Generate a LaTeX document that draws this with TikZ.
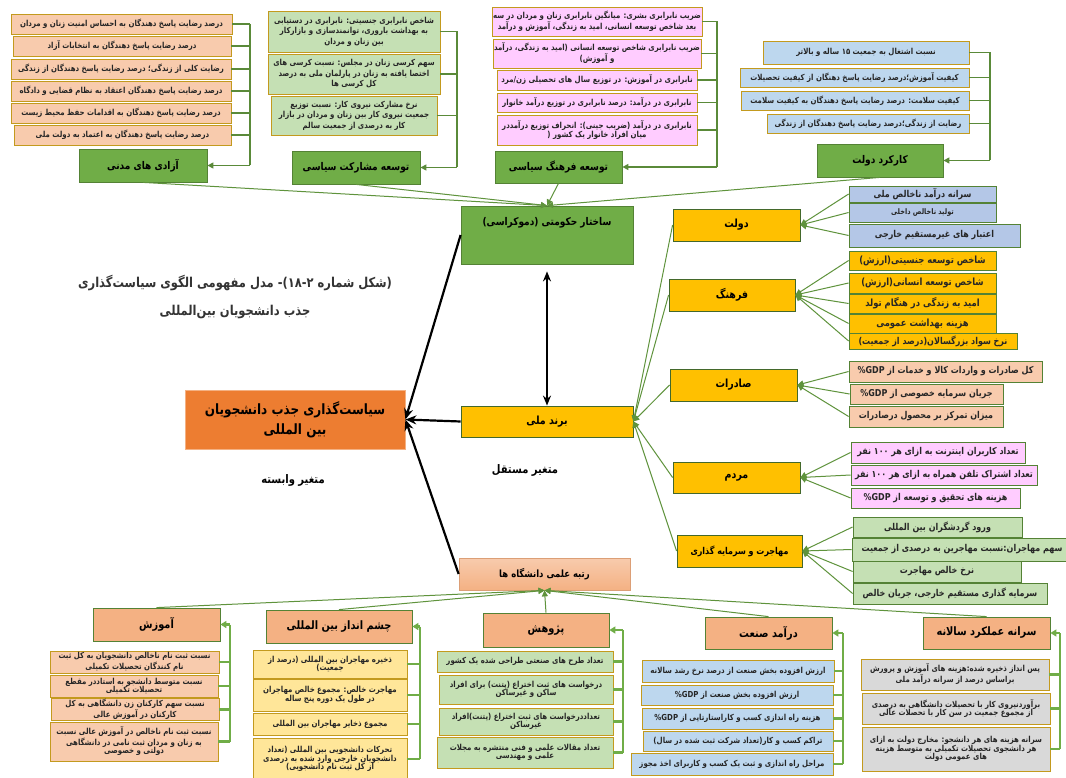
\documentclass[tikz,border=0pt]{standalone}
\usepackage{fontspec}
\usepackage{graphicx}
\usetikzlibrary{arrows.meta}
\TeXXeTstate=1
\newfontfamily\fa[Script=Arabic]{DejaVu Sans}
\newfontfamily\latfont{DejaVu Sans}
\newcommand\R[1]{\scalebox{1}[1.18]{\fa\beginR #1\endR}}
\newcommand\N[1]{\beginL{\latfont #1}\endL}
\definecolor{leafgreen}{HTML}{70AD47}
\definecolor{goldline}{HTML}{C39A1E}
\definecolor{amber}{HTML}{FFC000}
\definecolor{peach}{HTML}{F8CBAD}
\definecolor{salmon}{HTML}{F4B183}
\definecolor{tangerine}{HTML}{ED7D31}
\definecolor{mint}{HTML}{C5E0B4}
\definecolor{sky}{HTML}{BDD7EE}
\definecolor{periwinkle}{HTML}{B4C7E7}
\definecolor{orchid}{HTML}{FFCCFF}
\definecolor{cream}{HTML}{FFE699}
\definecolor{silver}{HTML}{D9D9D9}

\begin{document}
\begin{tikzpicture}[x=1pt,y=-1pt]
	\tikzstyle{box} = [draw=goldline, thick, inner sep=1pt, align=center, text=black!85, font=\bfseries\fontsize{7}{8.4}\selectfont]
	\tikzstyle{sub} = [draw=leafgreen!75!black, thick, inner sep=1pt, align=center, text=black!85, font=\bfseries\fontsize{8}{9.5}\selectfont]
	\tikzstyle{head} = [draw=leafgreen!75!black, thick, fill=leafgreen, font=\bfseries\fontsize{9}{11}\selectfont]
	\tikzstyle{brick} = [draw=leafgreen!60!black, thick, fill=amber, font=\bfseries\fontsize{9.5}{11}\selectfont]
	\tikzstyle{low} = [draw=leafgreen!75!black, thick, fill=salmon, font=\bfseries\fontsize{9.8}{11}\selectfont]
	\tikzstyle{gline} = [leafgreen!80!black, line width=1.2pt]
	\tikzstyle{bus} = [leafgreen, line width=2.2pt]
	\tikzstyle{garrow} = [leafgreen!85!black, line width=1pt, -{Triangle[length=6pt,width=6pt]}]
	\tikzstyle{barrow} = [line width=2.2pt, -{Stealth[length=11pt,width=9pt]}]
	\tikzset{sz/.style 2 args={minimum width=#1, minimum height=#2}}

	\useasboundingbox[fill=white] (0,0) rectangle (1066,778);

	% civil liberties
	\node[box, fill=peach, sz={221}{20}] (civ1) at (121.5,24) {\R{درصد رضایت پاسخ دهندگان به احساس امنیت زنان و مردان}};
	\node[box, fill=peach, sz={218}{20}] (civ2) at (122,46) {\R{درصد رضایت پاسخ دهندگان به انتخابات آزاد}};
	\node[box, fill=peach, sz={220}{20}] (civ3) at (121,69) {\R{رضایت کلی از زندگی؛ درصد رضایت پاسخ دهندگان از زندگی}};
	\node[box, fill=peach, sz={220}{20}] (civ4) at (121,91) {\R{درصد رضایت پاسخ دهندگان اعتقاد به نظام قضایی و دادگاه}};
	\node[box, fill=peach, sz={220}{20}] (civ5) at (121,113) {\R{درصد رضایت پاسخ دهندگان به اقدامات حفظ محیط زیست}};
	\node[box, fill=peach, sz={217}{20}] (civ6) at (122.5,135) {\R{درصد رضایت پاسخ دهندگان به اعتماد به دولت ملی}};
	\node[head, sz={128}{33}] (civ) at (143,165.5) {\R{آزادی های مدنی}};

	% political participation
	\node[box, fill=mint, sz={172}{41}, font=\bfseries\fontsize{7}{10.5}\selectfont] (pol1) at (354,31.5) {\R{شاخص نابرابری جنسیتی: نابرابری در دستیابی}\\\R{به بهداشت باروری، توانمندسازی و بازارکار}\\\R{بین زنان و مردان}};
	\node[box, fill=mint, sz={172}{40}, font=\bfseries\fontsize{7}{10.5}\selectfont] (pol2) at (354,74) {\R{سهم کرسی زنان در مجلس: نسبت کرسی های}\\\R{اختصا یافته به زنان در پارلمان ملی به درصد}\\\R{کل کرسی ها}};
	\node[box, fill=mint, sz={166}{39}, font=\bfseries\fontsize{7}{10.5}\selectfont] (pol3) at (354,115.5) {\R{نرخ مشارکت نیروی کار: نسبت توزیع}\\\R{جمعیت نیروی کار بین زنان و مردان در بازار}\\\R{کار به درصدی از جمعیت سالم}};
	\node[head, sz={128}{33}] (pol) at (356,167.5) {\R{توسعه مشارکت سیاسی}};

	% political culture
	\node[box, fill=orchid, sz={200}{29}] (cul1) at (597,21.5) {\R{ضریب نابرابری بشری: میانگین نابرابری زنان و مردان در سه}\\\R{بعد شاخص توسعه انسانی، امید به زندگی، آموزش و درآمد}};
	\node[box, fill=orchid, sz={200}{29}] (cul2) at (597,53.5) {\R{ضریب نابرابری شاخص توسعه انسانی (امید به زندگی، درآمد}\\\R{و آموزش)}};
	\node[box, fill=orchid, sz={200}{20}] (cul3) at (597,80) {\R{نابرابری در آموزش: در توزیع سال های تحصیلی زن/مرد}};
	\node[box, fill=orchid, sz={200}{19}] (cul4) at (597,102.5) {\R{نابرابری در درآمد: درصد نابرابری در توزیع درآمد خانوار}};
	\node[box, fill=orchid, sz={200}{30}] (cul5) at (597,130) {\R{نابرابری در درآمد (ضریب جینی): انحراف توزیع درآمددر}\\\R{میان افراد خانوار یک کشور (}};
	\node[head, sz={127}{32}] (cul) at (558.5,167) {\R{توسعه فرهنگ سیاسی}};

	% government performance
	\node[box, fill=sky, sz={206}{23}] (gov1) at (866,52.5) {\R{نسبت اشتغال به جمعیت \N{۱۵} ساله و بالاتر}};
	\node[box, fill=sky, sz={229}{19}] (gov2) at (854.5,77.5) {\R{کیفیت آموزش؛درصد رضایت پاسخ دهنگان از کیفیت تحصیلات}};
	\node[box, fill=sky, sz={228}{19}] (gov3) at (855,100.5) {\R{کیفیت سلامت: درصد رضایت پاسخ دهندگان به کیفیت سلامت}};
	\node[box, fill=sky, sz={202}{19}] (gov4) at (868,123.5) {\R{رضایت از زندگی؛درصد رضایت پاسخ دهندگان از زندگی}};
	\node[head, sz={126}{33}] (gov) at (880,160.5) {\R{کارکرد دولت}};

	% brackets of the top groups
	\coordinate (civbus) at (250,0);
	\coordinate (polbus) at (457,0);
	\coordinate (culbus) at (717,0);
	\coordinate (govbus) at (990,0);
	\foreach \n in {civ1,civ2,civ3,civ4,civ5,civ6}
		\draw[gline] (\n.east) -- (\n.east -| civbus);
	\draw[gline] (civ1.east -| civbus) -- (civ.east -| civbus);
	\draw[gline, -{Triangle[length=6pt,width=6pt]}] (civ.east -| civbus) -- (civ.east);
	\foreach \n in {pol1,pol2,pol3}
		\draw[gline] (\n.east) -- (\n.east -| polbus);
	\draw[gline] (pol1.east -| polbus) -- (pol.east -| polbus);
	\draw[gline, -{Triangle[length=6pt,width=6pt]}] (pol.east -| polbus) -- (pol.east);
	\foreach \n in {cul1,cul2,cul3,cul4,cul5}
		\draw[gline] (\n.east) -- (\n.east -| culbus);
	\draw[gline] (cul1.east -| culbus) -- (cul.east -| culbus);
	\draw[gline, -{Triangle[length=6pt,width=6pt]}] (cul.east -| culbus) -- (cul.east);
	\foreach \n in {gov1,gov2,gov3,gov4}
		\draw[gline] (\n.east) -- (\n.east -| govbus);
	\draw[gline] (gov1.east -| govbus) -- (gov.east -| govbus);
	\draw[gline, -{Triangle[length=6pt,width=6pt]}] (gov.east -| govbus) -- (gov.east);

	% middle column
	\node[head, sz={172}{58}, text height=17pt, text depth=35pt, inner sep=3pt] (demo) at (547,235) {\R{ساختار حکومتی (دموکراسی)}};
	\node[brick, sz={172}{31}] (brand) at (547,421.5) {\R{برند ملی}};
	\node[draw=salmon!90!black, thick, top color=peach, bottom color=salmon, sz={171}{32}, font=\bfseries\fontsize{8.5}{10}\selectfont] (rank) at (544.5,574) {\R{رتبه علمی دانشگاه ها}};
	\node[draw=salmon, thick, fill=tangerine, sz={220}{59}, align=center, font=\bfseries\fontsize{12}{20}\selectfont] (core) at (295,419.5) {\R{سیاست‌گذاری جذب دانشجویان}\\\R{بین المللی}};

	\node[text=black!80, font=\bfseries\fontsize{11.5}{14}\selectfont] (cap1) at (235,283) {\R{(شکل شماره \N{۱۸-۲})- مدل مفهومی الگوی سیاست‌گذاری}};
	\node[text=black!80, font=\bfseries\fontsize{11.5}{14}\selectfont] (cap2) at (235,312) {\R{جذب دانشجویان بین‌المللی}};
	\node[font=\bfseries\fontsize{10}{12}\selectfont] (dep) at (293,480) {\R{متغیر وابسته}};
	\node[font=\bfseries\fontsize{10}{12}\selectfont] (ind) at (525,470) {\R{متغیر مستقل}};

	% national brand factors
	\node[brick, sz={127}{32}] (dol) at (736.5,225) {\R{دولت}};
	\node[brick, sz={126}{32}] (far) at (732,295) {\R{فرهنگ}};
	\node[brick, sz={127}{32}] (sad) at (733.5,385) {\R{صادرات}};
	\node[brick, sz={127}{31}] (mar) at (736.5,477.5) {\R{مردم}};
	\node[brick, sz={125}{32}, font=\bfseries\fontsize{8}{10}\selectfont] (mah) at (739.5,551) {\R{مهاجرت و سرمایه گذاری}};

	\node[sub, fill=periwinkle, sz={147}{16}] (dol1) at (922.5,194) {\R{سرانه درآمد ناخالص ملی}};
	\node[sub, fill=periwinkle, sz={147}{19}, font=\bfseries\fontsize{6.5}{8}\selectfont] (dol2) at (922.5,212.5) {\R{تولید ناخالص داخلی}};
	\node[sub, fill=periwinkle, sz={171}{23}] (dol3) at (934.5,235.5) {\R{اعتبار های غیرمستقیم خارجی}};

	\node[sub, fill=amber, sz={147}{19}, font=\bfseries\fontsize{8.4}{9.5}\selectfont] (far1) at (922.5,260.5) {\R{شاخص توسعه جنسیتی(ارزش)}};
	\node[sub, fill=amber, sz={147}{20}, font=\bfseries\fontsize{8.4}{9.5}\selectfont] (far2) at (922.5,283) {\R{شاخص توسعه انسانی(ارزش)}};
	\node[sub, fill=amber, sz={147}{19}, font=\bfseries\fontsize{8.4}{9.5}\selectfont] (far3) at (922.5,303.5) {\R{امید به زندگی در هنگام تولد}};
	\node[sub, fill=amber, sz={147}{19}, font=\bfseries\fontsize{8.4}{9.5}\selectfont] (far4) at (922.5,323.5) {\R{هزینه بهداشت عمومی}};
	\node[sub, fill=amber, sz={168}{16}] (far5) at (933,341) {\R{نرخ سواد بزرگسالان(درصد از جمعیت)}};

	\node[sub, fill=peach, sz={193}{21}] (sad1) at (945.5,371.5) {\R{کل صادرات و واردات کالا و خدمات از \N{\%GDP}}};
	\node[sub, fill=peach, sz={153}{20}] (sad2) at (926.5,394) {\R{جریان سرمایه خصوصی از \N{\%GDP}}};
	\node[sub, fill=peach, sz={154}{21}] (sad3) at (926,416.5) {\R{میزان تمرکز بر محصول درصادرات}};

	\node[sub, fill=orchid, sz={174}{21}] (mar1) at (938,452.5) {\R{تعداد کاربران اینترنت به ازای هر \N{۱۰۰} نفر}};
	\node[sub, fill=orchid, sz={186}{20}] (mar2) at (944,475) {\R{تعداد اشتراک تلفن همراه به ازای هر \N{۱۰۰} نفر}};
	\node[sub, fill=orchid, sz={169}{20}] (mar3) at (935.5,498) {\R{هزینه های تحقیق و توسعه از \N{\%GDP}}};

	\node[sub, fill=mint, sz={169}{20}] (mah1) at (937.5,527) {\R{ورود گردشگران بین المللی}};
	\node[sub, fill=mint, sz={220}{23}] (mah2) at (962,549.5) {\R{سهم مهاجران:نسبت مهاجرین به درصدی از جمعیت}};
	\node[sub, fill=mint, sz={168}{21}] (mah3) at (937,571.5) {\R{نرخ خالص مهاجرت}};
	\node[sub, fill=mint, sz={194}{21}] (mah4) at (950,593.5) {\R{سرمایه گذاری مستقیم خارجی، جریان خالص}};

	\foreach \n in {dol1,dol2,dol3}
		\draw[garrow] (\n.west) -- (dol.east);
	\foreach \n in {far1,far2,far3,far4,far5}
		\draw[garrow] (\n.west) -- (far.east);
	\foreach \n in {sad1,sad2,sad3}
		\draw[garrow] (\n.west) -- (sad.east);
	\foreach \n in {mar1,mar2,mar3}
		\draw[garrow] (\n.west) -- (mar.east);
	\foreach \n in {mah1,mah2,mah3,mah4}
		\draw[garrow] (\n.west) -- (mah.east);

	% university ranking factors
	\node[low, sz={127}{33}] (amz) at (156.5,624.5) {\R{آموزش}};
	\node[box, fill=peach, sz={169}{22}] (amz1) at (134.5,662) {\R{نسبت ثبت نام ناخالص دانشجویان به کل ثبت}\\\R{نام کنندگان تحصیلات تکمیلی}};
	\node[box, fill=peach, sz={168}{22}] (amz2) at (134,686) {\R{نسبت متوسط دانشجو به استاددر مقطع}\\\R{تحصیلات تکمیلی}};
	\node[box, fill=peach, sz={168}{19}] (amz3) at (135,709.5) {\R{نسبت سهم کارکنان زن دانشگاهی به کل}\\\R{کارکنان در آموزش عالی}};
	\node[box, fill=peach, sz={168}{39}] (amz4) at (134,741.5) {\R{نسبت ثبت نام ناخالص در آموزش عالی نسبت}\\\R{به زنان و مردان ثبت نامی در دانشگاهی}\\\R{دولتی و خصوصی}};

	\node[low, sz={146}{33}] (che) at (339,626.5) {\R{چشم انداز بین المللی}};
	\node[box, fill=cream, sz={154}{28}] (che1) at (330,664) {\R{ذخیره مهاجران بین المللی (درصد از}\\\R{جمعیت)}};
	\node[box, fill=cream, sz={154}{32}] (che2) at (330,695) {\R{مهاجرت خالص: مجموع خالص مهاجران}\\\R{در طول یک دوره پنج ساله}};
	\node[box, fill=cream, sz={154}{22}] (che3) at (330,724) {\R{مجموع ذخایر مهاجران بین المللی}};
	\node[box, fill=cream, sz={154}{42}] (che4) at (330,759) {\R{تحرکات دانشجویی بین المللی (تعداد}\\\R{دانشجویان خارجی وارد شده به درصدی}\\\R{از کل ثبت نام دانشجویی)}};

	\node[low, sz={126}{34}] (pzh) at (546,630) {\R{پژوهش}};
	\node[box, fill=mint, sz={176}{21}] (pzh1) at (525,661.5) {\R{تعداد طرح های صنعتی طراحی شده یک کشور}};
	\node[box, fill=mint, sz={174}{29}] (pzh2) at (526,689.5) {\R{درخواست های ثبت اختراع (پتنت) برای افراد}\\\R{ساکن و غیرساکن}};
	\node[box, fill=mint, sz={174}{27}] (pzh3) at (526,721.5) {\R{تعداددرخواست های ثبت اختراع (پتنت)افراد}\\\R{غیرساکن}};
	\node[box, fill=mint, sz={176}{31}] (pzh4) at (525,752.5) {\R{تعداد مقالات علمی و فنی منتشره به مجلات}\\\R{علمی و مهندسی}};

	\node[low, sz={127}{32}] (dar) at (768.5,633) {\R{درآمد صنعت}};
	\node[box, fill=sky, sz={192}{22}] (dar1) at (738,671) {\R{ارزش افزوده بخش صنعت از درصد نرخ رشد سالانه}};
	\node[box, fill=sky, sz={192}{20}] (dar2) at (737,695) {\R{ارزش افزوده بخش صنعت از \N{\%GDP}}};
	\node[box, fill=sky, sz={191}{21}] (dar3) at (737.5,718.5) {\R{هزینه راه اندازی کسب و کاراستارتاپی از \N{\%GDP}}};
	\node[box, fill=sky, sz={190}{20}] (dar4) at (738,741) {\R{تراکم کسب و کار(تعداد شرکت ثبت شده در سال)}};
	\node[box, fill=sky, sz={202}{22}] (dar5) at (732,764) {\R{مراحل راه اندازی و ثبت یک کسب و کاربرای اخذ مجوز}};

	\node[low, sz={127}{32}] (sar) at (986.5,633) {\R{سرانه عملکرد سالانه}};
	\node[box, fill=silver, sz={188}{31}] (sar1) at (955,674.5) {\R{پس انداز ذخیره شده:هزینه های آموزش و پرورش}\\\R{براساس درصد از سرانه درآمد ملی}};
	\node[box, fill=silver, sz={188}{31}] (sar2) at (956,708.5) {\R{برآوردنیروی کار با تحصیلات دانشگاهی به درصدی}\\\R{از مجموع جمعیت در سن کار با تحصلات عالی}};
	\node[box, fill=silver, sz={188}{44}] (sar3) at (956,749) {\R{سرانه هزینه های هر دانشجو: مخارج دولت به ازای}\\\R{هر دانشجوی تحصیلات تکمیلی به متوسط هزینه}\\\R{های عمومی دولت}};

	% brackets of the bottom groups
	\coordinate (amzbus) at (230,0);
	\coordinate (chebus) at (420,0);
	\coordinate (pzhbus) at (623,0);
	\coordinate (darbus) at (843,0);
	\coordinate (sarbus) at (1060,0);
	\foreach \n in {amz1,amz2,amz3,amz4}
		\draw[bus] (\n.east) -- (\n.east -| amzbus);
	\draw[bus] (amz.east -| amzbus) -- (amz4.east -| amzbus);
	\draw[bus, -{Triangle[length=6pt,width=7pt]}] (amz.east -| amzbus) -- (amz.east);
	\foreach \n in {che1,che2,che3,che4}
		\draw[bus] (\n.east) -- (\n.east -| chebus);
	\draw[bus] (che.east -| chebus) -- (che4.east -| chebus);
	\draw[bus, -{Triangle[length=6pt,width=7pt]}] (che.east -| chebus) -- (che.east);
	\foreach \n in {pzh1,pzh2,pzh3,pzh4}
		\draw[bus] (\n.east) -- (\n.east -| pzhbus);
	\draw[bus] (pzh.east -| pzhbus) -- (pzh4.east -| pzhbus);
	\draw[bus, -{Triangle[length=6pt,width=7pt]}] (pzh.east -| pzhbus) -- (pzh.east);
	\foreach \n in {dar1,dar2,dar3,dar4,dar5}
		\draw[bus] (\n.east) -- (\n.east -| darbus);
	\draw[bus] (dar.east -| darbus) -- (dar5.east -| darbus);
	\draw[bus, -{Triangle[length=6pt,width=7pt]}] (dar.east -| darbus) -- (dar.east);
	\foreach \n in {sar1,sar2,sar3}
		\draw[bus] (\n.east) -- (\n.east -| sarbus);
	\draw[bus] (sar.east -| sarbus) -- (sar3.east -| sarbus);
	\draw[bus, -{Triangle[length=6pt,width=7pt]}] (sar.east -| sarbus) -- (sar.east);

	% converging links
	\foreach \n in {civ,pol,cul,gov}
		\draw[garrow] (\n.south) -- (demo.north);
	\foreach \n in {dol,far,sad,mar,mah}
		\draw[garrow] (\n.west) -- (brand.east);
	\foreach \n in {amz,che,pzh,dar,sar}
		\draw[garrow] (\n.north) -- (rank.south);

	\draw[barrow] (demo.west) -- (core.east);
	\draw[barrow] (brand.west) -- (core.east);
	\draw[barrow] (rank.west) -- (core.east);
	\draw[line width=2.2pt, {Stealth[length=10pt,width=8pt]}-{Stealth[length=10pt,width=8pt]}, shorten <=7pt] (demo.south) -- (brand.north);
\end{tikzpicture}
\end{document}
